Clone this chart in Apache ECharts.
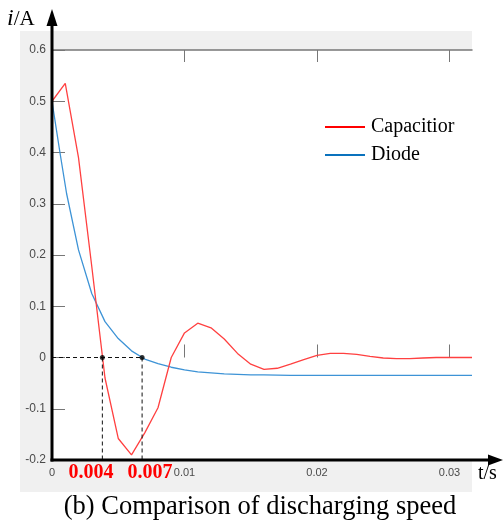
<!DOCTYPE html>
<html>
<head>
<meta charset="utf-8">
<script src="https://cdn.jsdelivr.net/npm/echarts@6/dist/echarts.min.js"></script>
<style>html,body{margin:0;padding:0;background:#fff;}#c{width:504px;height:529px;}</style>
</head>
<body>
<div id="c"></div>
<script>
// ---- data ----
var tCap = [0, 0.001, 0.002, 0.003, 0.004, 0.005, 0.006, 0.007, 0.008, 0.009, 0.010, 0.011, 0.012, 0.013, 0.014, 0.015, 0.016, 0.017, 0.018, 0.019, 0.020, 0.021, 0.022, 0.023, 0.024, 0.025, 0.026, 0.027, 0.028, 0.029, 0.030, 0.031, 0.0317];
var iCap = [0.50, 0.535, 0.39, 0.178, -0.04, -0.158, -0.19, -0.147, -0.098, 0.0, 0.048, 0.067, 0.058, 0.036, 0.008, -0.013, -0.023, -0.021, -0.013, -0.004, 0.004, 0.008, 0.008, 0.006, 0.002, -0.001, -0.002, -0.002, -0.001, 0.0, 0.0, 0.0, 0.0];
var tDiode = [0, 0.0006, 0.0011, 0.002, 0.003, 0.004, 0.005, 0.006, 0.007, 0.008, 0.009, 0.010, 0.011, 0.012, 0.013, 0.014, 0.015, 0.016, 0.018, 0.020, 0.025, 0.030, 0.0317];
var iDiode = [0.50, 0.40, 0.32, 0.21, 0.125, 0.07, 0.037, 0.013, -0.003, -0.012, -0.019, -0.024, -0.028, -0.030, -0.032, -0.033, -0.034, -0.034, -0.035, -0.035, -0.035, -0.035, -0.035];
var zeroCrossCap = 0.0038;
var zeroCrossDiode = 0.0068;
var crossLabels = ['0.004', '0.007'];
var xTicks = [0, 0.01, 0.02, 0.03];
var yMin = -0.2, yMax = 0.6, yStep = 0.1;
var xMax = 0.0317;
var seriesNames = ['Capacitior', 'Diode'];

function pairs(t, v) { return t.map(function (x, i) { return [x, v[i]]; }); }

var serif = 'Liberation Serif, Times New Roman, serif';
var sans = 'Liberation Sans, Arial, sans-serif';

var chart = echarts.init(document.getElementById('c'), null, { renderer: 'canvas' });

var guideData = [[0, 0], [zeroCrossDiode, 0], ['-', '-'], [zeroCrossCap, 0], [zeroCrossCap, yMin], ['-', '-'], [zeroCrossDiode, 0], [zeroCrossDiode, yMin]];

chart.setOption({
  animation: false,
  backgroundColor: '#fff',
  grid: { left: 52, top: 50, width: 420, height: 410, show: false },
  xAxis: [{
    type: 'value', min: 0, max: xMax, interval: 0.01,
    axisLine: { show: false },
    axisTick: { show: true, inside: true, length: 13, customValues: xTicks, lineStyle: { color: '#777', width: 1 } },
    axisLabel: { customValues: xTicks, color: '#4a4a4a', fontSize: 11, fontFamily: sans, margin: 7 },
    splitLine: { show: false }
  }, {
    type: 'value', min: 0, max: xMax, interval: 0.01, position: 'top',
    axisLine: { show: true, lineStyle: { color: '#777', width: 1.5 } },
    axisTick: { show: true, inside: true, length: 12, customValues: xTicks, lineStyle: { color: '#777', width: 1 } },
    axisLabel: { show: false },
    splitLine: { show: false }
  }],
  yAxis: {
    type: 'value', min: yMin, max: yMax, interval: yStep,
    axisLine: { show: false },
    axisTick: { show: true, inside: true, length: 13, lineStyle: { color: '#777', width: 1 } },
    axisLabel: { color: '#4a4a4a', fontSize: 12, fontFamily: sans, margin: 6 },
    splitLine: { show: false }
  },
  legend: {
    data: [{ name: seriesNames[0], icon: 'rect' }, { name: seriesNames[1], icon: 'rect' }],
    orient: 'vertical', left: 325, top: 117, padding: 0,
    itemWidth: 40, itemHeight: 2, itemGap: 8,
    textStyle: { fontFamily: serif, fontSize: 20, color: '#000', padding: [0, 0, 0, 1] }
  },
  series: [{
    name: seriesNames[0], type: 'line', data: pairs(tCap, iCap), symbol: 'none',
    lineStyle: { color: '#ff4040', width: 1.3 }, itemStyle: { color: '#ff0000' }, z: 5
  }, {
    name: seriesNames[1], type: 'line', data: pairs(tDiode, iDiode), symbol: 'none',
    lineStyle: { color: '#3d93d6', width: 1.3 }, itemStyle: { color: '#0a72bd' }, z: 4
  }, {
    name: 'guides', type: 'line', data: guideData, symbol: 'none', connectNulls: false,
    lineStyle: { color: '#111', width: 1, type: [4, 3] }, z: 6
  }, {
    name: 'crossPts', type: 'scatter', data: [[zeroCrossCap, 0], [zeroCrossDiode, 0]],
    symbolSize: 5, itemStyle: { color: '#000' }, z: 7
  }],
  graphic: [
    { type: 'rect', z: -10, shape: { x: 20, y: 31, width: 452, height: 461 }, style: { fill: '#f0f0f0' } },
    { type: 'rect', z: -9, shape: { x: 52, y: 50, width: 420, height: 410 }, style: { fill: '#ffffff' } },
    // y axis with arrow
    { type: 'line', z: 100, shape: { x1: 52, y1: 461.5, x2: 52, y2: 24 }, style: { stroke: '#000', lineWidth: 3 } },
    { type: 'polygon', z: 100, shape: { points: [[46.5, 26], [57.5, 26], [52, 9]] }, style: { fill: '#000' } },
    // x axis with arrow
    { type: 'line', z: 100, shape: { x1: 50.5, y1: 460, x2: 490, y2: 460 }, style: { stroke: '#000', lineWidth: 3 } },
    { type: 'polygon', z: 100, shape: { points: [[488, 454.5], [488, 465.5], [503, 460]] }, style: { fill: '#000' } },
    // axis titles
    { type: 'text', z: 100, x: 7, y: 19, style: { text: '{i|i}{n|/A}', rich: { i: { fontFamily: serif, fontStyle: 'italic', fontSize: 24, fill: '#000' }, n: { fontFamily: serif, fontSize: 21, fill: '#000' } }, verticalAlign: 'middle' } },
    { type: 'text', z: 100, x: 478, y: 474, style: { text: 't/s', fontFamily: serif, fontSize: 20, fill: '#000', verticalAlign: 'middle' } },
    // red labels
    { type: 'text', z: 100, x: 91, y: 473, style: { text: crossLabels[0], fontFamily: serif, fontWeight: 'bold', fontSize: 20, fill: '#ff0000', align: 'center', verticalAlign: 'middle' } },
    { type: 'text', z: 100, x: 150, y: 473, style: { text: crossLabels[1], fontFamily: serif, fontWeight: 'bold', fontSize: 20, fill: '#ff0000', align: 'center', verticalAlign: 'middle' } },
    // caption
    { type: 'text', z: 100, x: 260, y: 507, style: { text: '(b) Comparison of discharging speed', fontFamily: serif, fontSize: 26.5, fill: '#000', align: 'center', verticalAlign: 'middle' } }
  ]
});
</script>
</body>
</html>
